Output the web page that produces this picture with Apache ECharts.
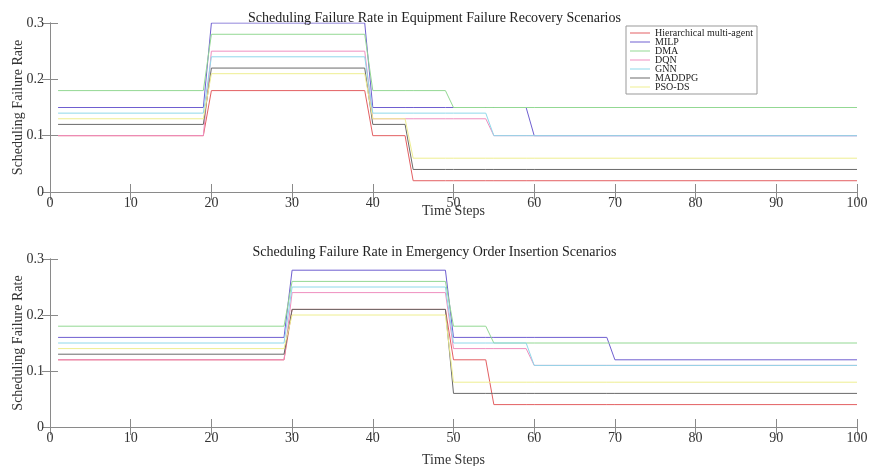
<!DOCTYPE html>
<html>
<head>
<meta charset="utf-8">
<script src="https://cdn.jsdelivr.net/npm/echarts@6/dist/echarts.min.js"></script>
<style>html,body{margin:0;padding:0;background:#fff;}#c{width:869px;height:466px;}</style>
</head>
<body>
<div id="c"></div>
<script>
// ---- data ----
var seriesNames = ['Hierarchical multi-agent', 'MILP', 'DMA', 'DQN', 'GNN', 'MADDPG', 'PSO-DS'];
var xTicks = [0, 10, 20, 30, 40, 50, 60, 70, 80, 90, 100];
var yTicks = [0, 0.1, 0.2, 0.3];
var titleTop = 'Scheduling Failure Rate in Equipment Failure Recovery Scenarios';
var titleBottom = 'Scheduling Failure Rate in Emergency Order Insertion Scenarios';

// Equipment failure recovery: time-step vertices of each line
var topSteps   = [1, 19, 20, 39, 40, 44, 45, 49, 50, 54, 55, 59, 60, 100];
var topHier    = [0.10, 0.10, 0.18, 0.18, 0.10, 0.10, 0.02, 0.02, 0.02, 0.02, 0.02, 0.02, 0.02, 0.02];
var topMILP    = [0.15, 0.15, 0.30, 0.30, 0.15, 0.15, 0.15, 0.15, 0.15, 0.15, 0.15, 0.15, 0.10, 0.10];
var topDMA     = [0.18, 0.18, 0.28, 0.28, 0.18, 0.18, 0.18, 0.18, 0.15, 0.15, 0.15, 0.15, 0.15, 0.15];
var topDQN     = [0.10, 0.10, 0.25, 0.25, 0.13, 0.13, 0.13, 0.13, 0.13, 0.13, 0.10, 0.10, 0.10, 0.10];
var topGNN     = [0.14, 0.14, 0.24, 0.24, 0.14, 0.14, 0.14, 0.14, 0.14, 0.14, 0.10, 0.10, 0.10, 0.10];
var topMADDPG  = [0.12, 0.12, 0.22, 0.22, 0.12, 0.12, 0.04, 0.04, 0.04, 0.04, 0.04, 0.04, 0.04, 0.04];
var topPSO     = [0.13, 0.13, 0.21, 0.21, 0.13, 0.13, 0.06, 0.06, 0.06, 0.06, 0.06, 0.06, 0.06, 0.06];

// Emergency order insertion: time-step vertices of each line
var botSteps   = [1, 29, 30, 49, 50, 54, 55, 59, 60, 69, 70, 100];
var botHier    = [0.12, 0.12, 0.21, 0.21, 0.12, 0.12, 0.04, 0.04, 0.04, 0.04, 0.04, 0.04];
var botMILP    = [0.16, 0.16, 0.28, 0.28, 0.16, 0.16, 0.16, 0.16, 0.16, 0.16, 0.12, 0.12];
var botDMA     = [0.18, 0.18, 0.26, 0.26, 0.18, 0.18, 0.15, 0.15, 0.15, 0.15, 0.15, 0.15];
var botDQN     = [0.12, 0.12, 0.24, 0.24, 0.14, 0.14, 0.14, 0.14, 0.11, 0.11, 0.11, 0.11];
var botGNN     = [0.15, 0.15, 0.25, 0.25, 0.15, 0.15, 0.15, 0.15, 0.11, 0.11, 0.11, 0.11];
var botMADDPG  = [0.13, 0.13, 0.21, 0.21, 0.06, 0.06, 0.06, 0.06, 0.06, 0.06, 0.06, 0.06];
var botPSO     = [0.14, 0.14, 0.20, 0.20, 0.08, 0.08, 0.08, 0.08, 0.08, 0.08, 0.08, 0.08];

// ---- styling ----
var colors = ['#e35f62', '#6f5fd0', '#93d893', '#ef8fbf', '#8fd8ea', '#6a6a6a', '#eeee90'];
var FONT = '"Liberation Serif", "Times New Roman", serif';
var AX = '#8a8a8a';
var TXT = '#333';

function pairs(xs, ys) { return xs.map(function (x, i) { return [x, ys[i]]; }); }
function fmtY(v) { return String(Math.round(v * 10) / 10); }

var grids = [
  { left: 50, right: 12, top: 23, height: 169, outerBoundsMode: 'none', containLabel: false },
  { left: 50, right: 12, top: 259, height: 168, outerBoundsMode: 'none', containLabel: false }
];
var xNameGaps = [12, 26];

var xAxes = [], yAxes = [];
[0, 1].forEach(function (g) {
  xAxes.push({
    type: 'value', gridIndex: g, min: xTicks[0], max: xTicks[xTicks.length - 1], interval: 10,
    name: 'Time Steps', nameLocation: 'middle', nameGap: xNameGaps[g], nameMoveOverlap: false,
    nameTextStyle: { fontFamily: FONT, fontSize: 14, color: TXT },
    axisLine: { lineStyle: { color: AX, width: 1 } },
    axisTick: { inside: true, length: 8, lineStyle: { color: AX } },
    axisLabel: { fontFamily: FONT, fontSize: 14, color: TXT, margin: 4 },
    splitLine: { show: false }
  });
  xAxes.push({
    type: 'value', gridIndex: g, position: 'top', min: 0, max: 100, interval: 10,
    axisLine: { show: true, lineStyle: { color: AX, width: 1 } },
    axisTick: { inside: true, length: 8, lineStyle: { color: AX } },
    axisLabel: { show: false }, splitLine: { show: false }
  });
  yAxes.push({
    type: 'value', gridIndex: g, min: yTicks[0], max: yTicks[yTicks.length - 1], interval: 0.1,
    name: 'Scheduling Failure Rate', nameLocation: 'middle', nameGap: 25, nameMoveOverlap: false,
    nameTextStyle: { fontFamily: FONT, fontSize: 14, color: TXT },
    axisLine: { show: true, lineStyle: { color: AX, width: 1 } },
    axisTick: { show: true, inside: true, length: 8, lineStyle: { color: AX } },
    axisLabel: { fontFamily: FONT, fontSize: 14, color: TXT, margin: 6, formatter: fmtY },
    splitLine: { show: false }
  });
  yAxes.push({
    type: 'value', gridIndex: g, position: 'right', min: 0, max: 0.3, interval: 0.1,
    axisLine: { show: true, lineStyle: { color: AX, width: 1 } },
    axisTick: { show: true, inside: true, length: 8, lineStyle: { color: AX } },
    axisLabel: { show: false }, splitLine: { show: false }
  });
});

var topData = [topHier, topMILP, topDMA, topDQN, topGNN, topMADDPG, topPSO];
var botData = [botHier, botMILP, botDMA, botDQN, botGNN, botMADDPG, botPSO];
var series = [];
topData.forEach(function (ys, i) {
  series.push({
    type: 'line', name: seriesNames[i], xAxisIndex: 0, yAxisIndex: 0,
    data: pairs(topSteps, ys), showSymbol: false, symbol: 'none', silent: true,
    lineStyle: { color: colors[i], width: 1 }, itemStyle: { color: colors[i] }
  });
});
botData.forEach(function (ys, i) {
  series.push({
    type: 'line', name: seriesNames[i], xAxisIndex: 2, yAxisIndex: 2,
    data: pairs(botSteps, ys), showSymbol: false, symbol: 'none', silent: true,
    lineStyle: { color: colors[i], width: 1 }, itemStyle: { color: colors[i] }
  });
});

var chart = echarts.init(document.getElementById('c'), null, { renderer: 'canvas' });
chart.setOption({
  backgroundColor: '#ffffff',
  animation: false,
  title: [
    { text: titleTop, left: 'center', top: 6, textStyle: { fontFamily: FONT, fontSize: 14, fontWeight: 'normal', color: '#222' } },
    { text: titleBottom, left: 'center', top: 240, textStyle: { fontFamily: FONT, fontSize: 14, fontWeight: 'normal', color: '#222' } }
  ],
  legend: {
    data: seriesNames, orient: 'vertical', left: 626, top: 26,
    icon: 'rect', itemWidth: 20, itemHeight: 1, itemGap: -1,
    padding: [2, 4, 2, 4],
    backgroundColor: '#fff', borderColor: '#999', borderWidth: 1, borderRadius: 0,
    textStyle: { fontFamily: FONT, fontSize: 10, color: '#222', lineHeight: 9 },
    selectedMode: false
  },
  grid: grids,
  xAxis: xAxes,
  yAxis: yAxes,
  series: series
});
</script>
</body>
</html>
